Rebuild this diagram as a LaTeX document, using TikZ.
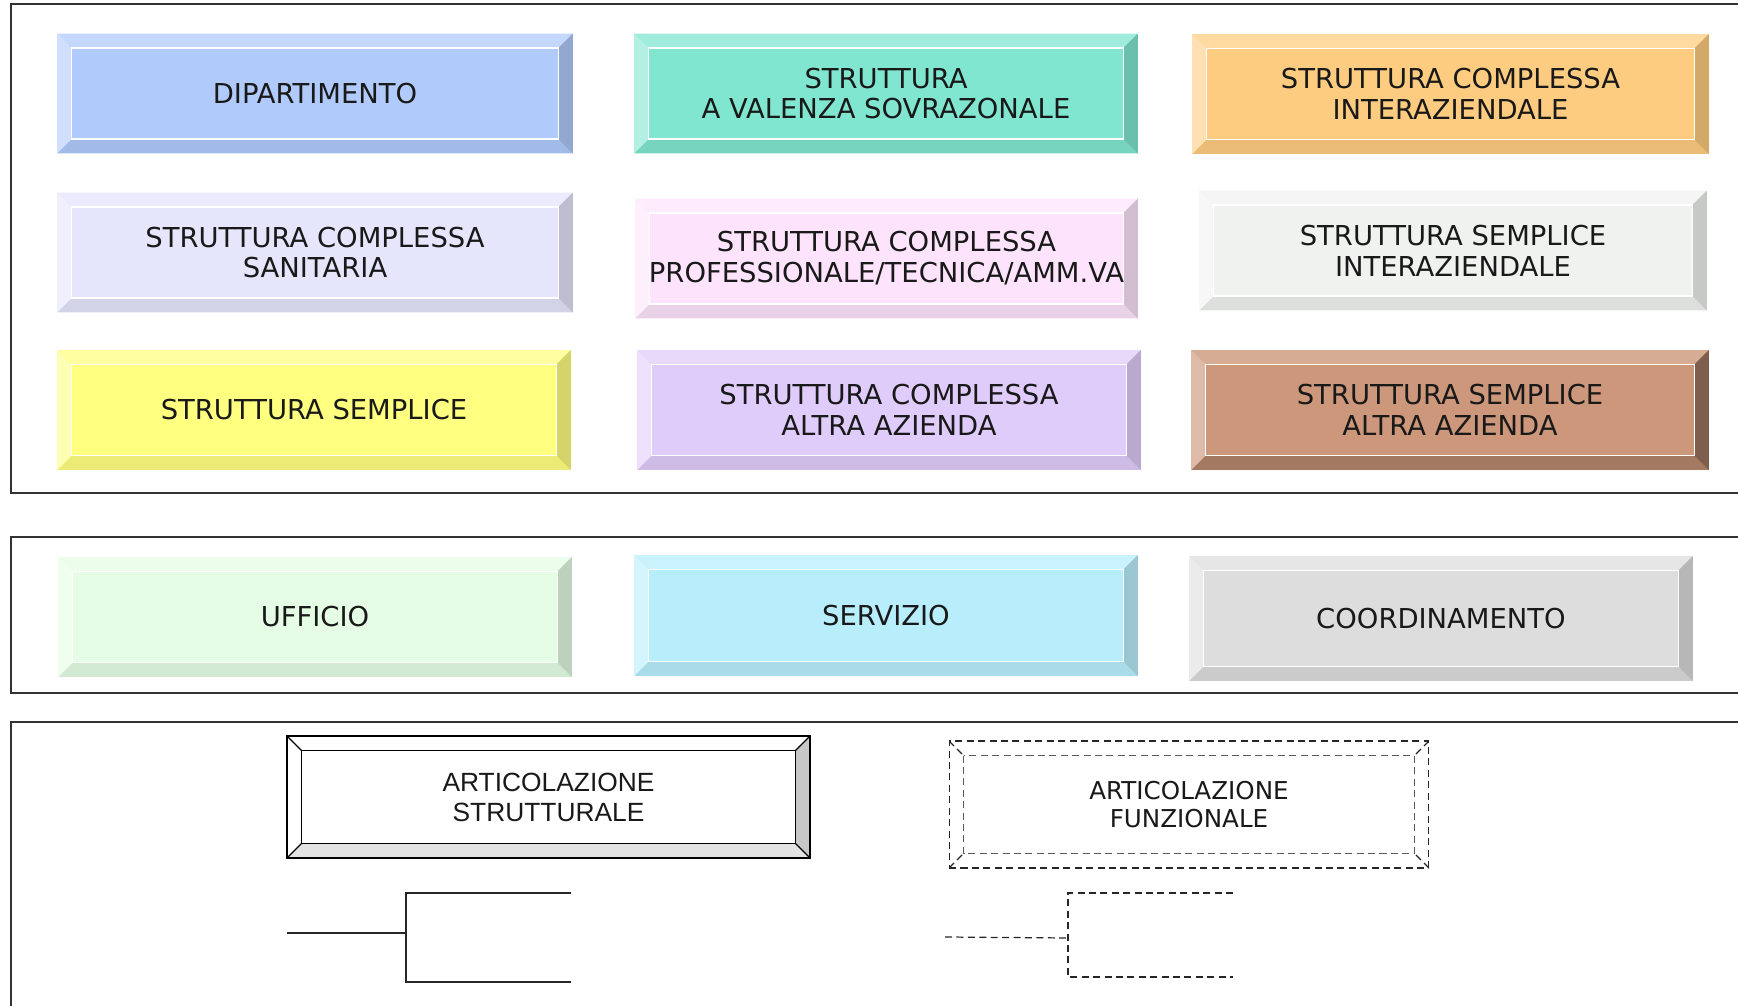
\documentclass[tikz,border=0pt]{standalone}
\usepackage{fontspec}
\usepackage{xcolor}
\usepackage{tikz}
\setmainfont{DejaVu Sans}
\newfontfamily\arialfont{Liberation Sans}
\definecolor{dipblue}{RGB}{176, 202, 252}
\definecolor{valenzateal}{RGB}{128, 230, 208}
\definecolor{interorange}{RGB}{254, 204, 128}
\definecolor{sanlavender}{RGB}{229, 229, 252}
\definecolor{profpink}{RGB}{253, 228, 252}
\definecolor{ssigray}{RGB}{240, 242, 240}
\definecolor{ssyellow}{RGB}{255, 255, 128}
\definecolor{scalilac}{RGB}{224, 204, 250}
\definecolor{ssabrown}{RGB}{204, 151, 122}
\definecolor{uffgreen}{RGB}{228, 253, 228}
\definecolor{sercyan}{RGB}{184, 238, 252}
\definecolor{coordgray}{RGB}{221, 221, 221}
\usetikzlibrary{positioning}

\newcommand{\bevelw}{0.29cm}
\newcommand{\boxfont}{\fontsize{15.6}{17.6}\selectfont}

\tikzset{
    bevel top/.store in=\bvtop,
    bevel left/.store in=\bvleft,
    bevel right/.store in=\bvright,
    bevel bottom/.store in=\bvbottom,
    bevel edge/.store in=\bvedge,
    bevel inner/.store in=\bvinner,
    bevel lines/.style={line width=0.6pt},
}

\begin{document}
\begin{tikzpicture}[
        x=0.02cm, y=-0.02cm,
        every node/.style={font=\boxfont, text=black!90},
        bevelbox/.style={rectangle, inner sep=0pt, align=center, fill=#1, minimum height=2.4cm,
            bevel top=#1!75!white, bevel left=#1!60!white,
            bevel right=#1!83!black, bevel bottom=#1!92!black,
            bevel edge=none, bevel inner=white,
            path picture={
                \coordinate (bvnw) at (path picture bounding box.north west);
                \coordinate (bvne) at (path picture bounding box.north east);
                \coordinate (bvsw) at (path picture bounding box.south west);
                \coordinate (bvse) at (path picture bounding box.south east);
                \coordinate (innw) at ([shift={(\bevelw,-\bevelw)}]bvnw);
                \coordinate (inne) at ([shift={(-\bevelw,-\bevelw)}]bvne);
                \coordinate (insw) at ([shift={(\bevelw,\bevelw)}]bvsw);
                \coordinate (inse) at ([shift={(-\bevelw,\bevelw)}]bvse);
                \fill[fill=\bvtop] (bvnw) -- (bvne) -- (inne) -- (innw) -- cycle;
                \fill[fill=\bvbottom] (bvsw) -- (bvse) -- (inse) -- (insw) -- cycle;
                \fill[fill=\bvleft] (bvnw) -- (innw) -- (insw) -- (bvsw) -- cycle;
                \fill[fill=\bvright] (bvne) -- (inne) -- (inse) -- (bvse) -- cycle;
                \path[draw=\bvedge, bevel lines] (bvnw) -- (innw) (bvne) -- (inne) (bvsw) -- (insw) (bvse) -- (inse);
                \path[draw=\bvinner, bevel lines] (innw) rectangle (inse);
            }},
        panel/.style={draw=black!80, line width=0.8pt},
        link/.style={draw=black!85, line width=0.7pt},
        dashlink/.style={link, dash pattern=on 4pt off 2.5pt},
    ]

        \useasboundingbox (0,0) rectangle (1738,1006);
        \clip (0,0) rectangle (1738,1006);

        % Panels
        \draw[panel] (11,4) rectangle (1760,493);
        \draw[panel] (11,537) rectangle (1760,693);
        \draw[panel] (11,722) rectangle (1760,1030);

        % Row 1
        \node[bevelbox=dipblue, minimum width=10.32cm] at (315,93.5) (dip) {DIPARTIMENTO};
        \node[bevelbox=valenzateal, minimum width=10.08cm] at (886,93.5) (valenza) {STRUTTURA\\A VALENZA SOVRAZONALE};
        \node[bevelbox=interorange, minimum width=10.34cm] at (1450.5,94) (scinter) {STRUTTURA COMPLESSA\\INTERAZIENDALE};

        % Row 2
        \node[bevelbox=sanlavender, minimum width=10.32cm] at (315,252.5) (scsan) {STRUTTURA COMPLESSA\\SANITARIA};
        \node[bevelbox=profpink, minimum width=10.06cm] at (886.5,258.5) (scprof) {STRUTTURA COMPLESSA\\PROFESSIONALE/TECNICA/AMM.VA};
        \node[bevelbox=ssigray, minimum width=10.16cm] at (1453,250.5) (ssinter) {STRUTTURA SEMPLICE\\INTERAZIENDALE};

        % Row 3
        \node[bevelbox=ssyellow, minimum width=10.28cm] at (314,410) (ss) {STRUTTURA SEMPLICE};
        \node[bevelbox=scalilac, minimum width=10.08cm] at (889,410) (scaltra) {STRUTTURA COMPLESSA\\ALTRA AZIENDA};
        \node[bevelbox=ssabrown, minimum width=10.36cm, bevel top=ssabrown!80!white, bevel left=ssabrown!65!white,
            bevel right=ssabrown!62!black, bevel bottom=ssabrown!80!black] at (1450,410) (ssaltra) {STRUTTURA SEMPLICE\\ALTRA AZIENDA};

        % Uffici, servizi, coordinamenti
        \node[bevelbox=uffgreen, minimum width=10.28cm] at (315,617) (ufficio) {UFFICIO};
        \node[bevelbox=sercyan, minimum width=10.08cm, minimum height=2.42cm] at (886,615.5) (servizio) {SERVIZIO};
        \node[bevelbox=coordgray, minimum width=10.08cm, minimum height=2.5cm] at (1441,618.5) (coord) {COORDINAMENTO};

        % Legenda
        \node[bevelbox=white, minimum width=10.46cm, minimum height=2.44cm, draw=black, line width=1.2pt,
            bevel top=white, bevel left=white, bevel right=black!22, bevel bottom=black!11,
            bevel edge=black, bevel inner=black, bevel lines/.style={line width=0.7pt},
            font=\arialfont\fontsize{15}{17}\selectfont] at (548.5,797) (artstrut) {ARTICOLAZIONE\\STRUTTURALE};
        \node[bevelbox=white, minimum width=9.6cm, minimum height=2.54cm, draw=black!85, line width=0.6pt,
            dash pattern=on 4pt off 2.5pt,
            bevel top=white, bevel left=white, bevel right=white, bevel bottom=white,
            bevel edge=black!85, bevel inner=black!65,
            bevel lines/.style={line width=0.7pt, dash pattern=on 4pt off 2.5pt},
            font=\fontsize{14}{15.8}\selectfont] at (1189,804.5) (artfunz) {ARTICOLAZIONE\\FUNZIONALE};

        % Collegamento strutturale
        \coordinate (sin) at (287,933);
        \coordinate (sfork) at (406,933);
        \coordinate (sup1) at (571,893);
        \coordinate (sdown1) at (571,982);
        \draw[link] (sin) -- (sfork);
        \draw[link] (sup1) -| (sfork) |- (sdown1);

        % Collegamento funzionale
        \coordinate (fin) at (945,937);
        \coordinate (ffork) at (1068,938);
        \coordinate (fup1) at (1233,893);
        \coordinate (fdown1) at (1233,977);
        \draw[dashlink] (fin) -- (ffork);
        \draw[dashlink] (fup1) -| (ffork) |- (fdown1);

    \end{tikzpicture}
\end{document}
